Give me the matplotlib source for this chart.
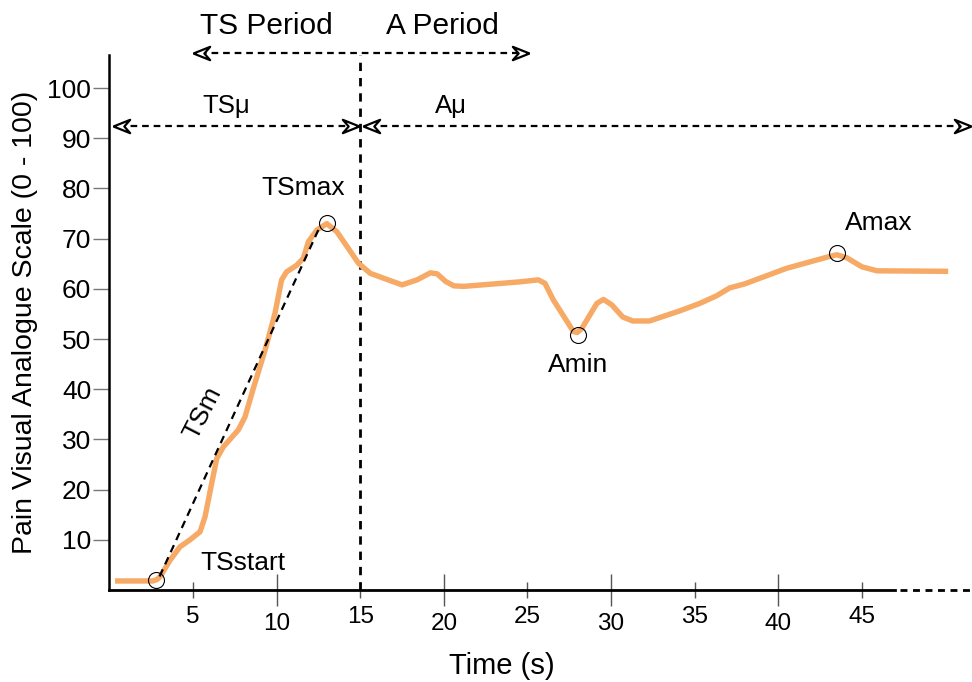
import matplotlib
matplotlib.use('Agg')
import matplotlib.pyplot as plt
from matplotlib.ticker import FixedLocator

plt.rcParams['font.family'] = ['Liberation Sans', 'DejaVu Sans']

# pain curve (time in s, VAS 0-100)
time = [0.5, 2.6, 2.85, 3.03, 3.62, 4.22, 4.82, 5.42, 5.72, 6.12, 6.42, 6.81, 7.71, 8.11,
        8.61, 9.31, 9.9, 10.3, 10.6, 11.2, 11.6, 11.9, 12.4, 13.0, 13.6, 14.9, 15.6,
        16.5, 17.5, 18.4, 19.2, 19.6, 20.1, 20.6, 21.2, 24.55, 25.65, 26.05, 26.55,
        27.75, 27.98, 28.25, 29.15, 29.55, 30.05, 30.7, 31.3, 32.3, 34.1, 35.3, 36.3,
        37.1, 38.0, 40.5, 42.9, 43.5, 44.1, 45.0, 45.9, 50.0]
vas = [1.8, 1.8, 2.1, 2.65, 5.9, 8.6, 10.0, 11.6, 14.6, 21.3, 26.2, 28.5, 31.9, 34.5,
       40.2, 47.8, 55.1, 61.8, 63.4, 64.7, 66.1, 69.4, 71.7, 73.0, 71.4, 65.1, 63.1,
       62.0, 60.8, 61.8, 63.2, 63.0, 61.5, 60.6, 60.5, 61.4, 61.8, 61.1, 57.8,
       51.5, 51.3, 52.1, 57.1, 57.9, 56.8, 54.4, 53.6, 53.6, 55.6, 57.1, 58.6,
       60.2, 61.0, 64.1, 66.3, 66.8, 66.2, 64.4, 63.6, 63.5]

# marked points: TSstart, TSmax, Amin, Amax
mark_t = [2.8, 13.0, 28.0, 43.5]
mark_v = [2.0, 73.1, 50.8, 67.1]
mark_names = ['TSstart', 'TSmax', 'Amin', 'Amax']

# TSm slope line
slope_t = [3.0, 12.6]
slope_v = [2.7, 72.5]

xticks_major = [10, 20, 30, 40]
xticks_minor = [5, 15, 25, 35, 45]
yticks = [10, 20, 30, 40, 50, 60, 70, 80, 90, 100]

fig = plt.figure(figsize=(9.72, 6.82), dpi=100)
ax = fig.add_axes([109.4/972, 92/682, 862.8/972, 535/682])
ax.set_xlim(0, 51.6)
ax.set_ylim(0, 106.6)

ax.plot(time, vas, color='#F7AA66', lw=3.9, solid_joinstyle='round', zorder=3)
ax.plot(mark_t, mark_v, 'o', ms=11.5, mfc='none', mec='black', mew=0.8, zorder=4)
ax.plot(slope_t, slope_v, color='black', lw=1.6, ls=(0, (3.5, 2.5)), zorder=4)

# vertical split between periods
ax.plot([15, 15], [0, 106.6], color='black', lw=2, ls=(0, (3, 2.5)), zorder=2, clip_on=False)

# x axis solid up to 47 then dashed
ax.spines['top'].set_visible(False)
ax.spines['right'].set_visible(False)
ax.spines['left'].set_linewidth(1.8)
ax.spines['bottom'].set_linewidth(2)
ax.spines['bottom'].set_bounds(0, 47)
ax.plot([47.3, 51.6], [0, 0], color='black', lw=2, ls=(0, (2.5, 2)), clip_on=False)

ax.xaxis.set_major_locator(FixedLocator(xticks_major))
ax.xaxis.set_minor_locator(FixedLocator(xticks_minor))
ax.set_xticklabels([str(t) for t in xticks_major])
ax.set_xticklabels([str(t) for t in xticks_minor], minor=True)
ax.tick_params(axis='x', which='major', direction='inout', length=23, width=1,
               color='#555555', labelsize=17.5, pad=5)
ax.tick_params(axis='x', which='minor', direction='inout', length=11.5, width=1,
               color='#555555', labelsize=17.5, pad=5.5)
ax.set_yticks(yticks)
ax.tick_params(axis='y', direction='out', length=11.5, width=1, color='#777777',
               labelsize=19, pad=1.5)

ax.set_xlabel('Time (s)', fontsize=21)
ax.xaxis.set_label_coords(0.455, -0.115)
ax.set_ylabel('Pain Visual Analogue Scale (0 - 100)', fontsize=20.5)
ax.yaxis.set_label_coords(-0.083, 0.5)

# notched arrow head, tip at the origin, pointing right
head_r = [(0, 0), (-1, 0.4), (-0.65, 0), (-1, -0.4), (0, 0)]
head_l = [(-x, y) for x, y in head_r]


def double_arrow(x0, x1, y):
    ax.plot([x0 + 0.4, x1 - 0.4], [y, y], color='black', lw=1.6, ls=(0, (3, 2.2)),
            clip_on=False, zorder=5)
    ax.plot([x0], [y], marker=head_l, ms=24, mfc='white', mec='black', mew=1.6,
            clip_on=False, zorder=6)
    ax.plot([x1], [y], marker=head_r, ms=24, mfc='white', mec='black', mew=1.6,
            clip_on=False, zorder=6)


double_arrow(5.0, 25.1, 106.9)
double_arrow(0.2, 14.9, 92.4)
double_arrow(15.15, 51.5, 92.4)

ax.text(9.4, 112.4, 'TS Period', fontsize=21.5, ha='center', va='center')
ax.text(19.9, 112.4, 'A Period', fontsize=21.5, ha='center', va='center')
ax.text(7.0, 96.4, 'TSμ', fontsize=18.5, ha='center', va='center')
ax.text(20.4, 96.4, 'Aμ', fontsize=18.5, ha='center', va='center')

label_pos = [(7.96, 5.4), (11.6, 80.1), (28.0, 44.8), (46.0, 73.1)]
for name, (lx, ly) in zip(mark_names, label_pos):
    ax.text(lx, ly, name, fontsize=19, ha='center', va='center')

ax.text(5.6, 35.2, 'TSm', fontsize=19, ha='center', va='center', rotation=63,
        rotation_mode='anchor')

fig.savefig('out.png', dpi=100)
